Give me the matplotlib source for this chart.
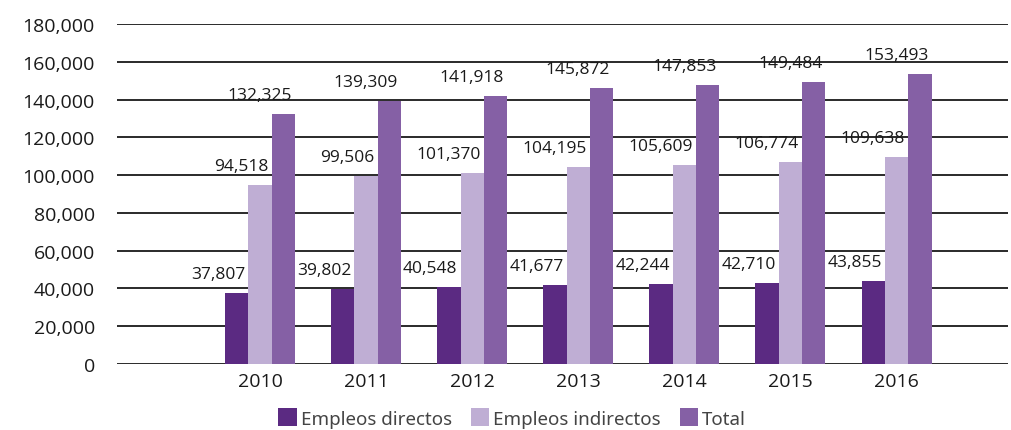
import matplotlib
matplotlib.use("Agg")
import matplotlib.pyplot as plt
import numpy as np
from matplotlib.patches import Patch

years = ["2010", "2011", "2012", "2013", "2014", "2015", "2016"]
directos = [37807, 39802, 40548, 41677, 42244, 42710, 43855]
indirectos = [94518, 99506, 101370, 104195, 105609, 106774, 109638]
total = [132325, 139309, 141918, 145872, 147853, 149484, 153493]
series_names = ["Empleos directos", "Empleos indirectos", "Total"]
colors = ["#5B2A82", "#BFAED4", "#8560A5"]
yticks = list(range(0, 180001, 20000))

plt.rcParams['font.family'] = ['Open Sans', 'DejaVu Sans']

fig = plt.figure(figsize=(10.12, 4.31), dpi=100)
ax = fig.add_axes([0.1156, 0.1531, 0.8804, 0.7889])

x = np.arange(len(years))
w = 0.22
dpx = 100 / 72.0
for k, (vals, col) in enumerate(zip([directos, indirectos, total], colors)):
    pos = x + (k - 1) * w
    ax.bar(pos, vals, width=w, color=col, zorder=3, linewidth=0)
    for p, v in zip(pos, vals):
        ax.annotate(f"{v:,}", xy=(p + w / 2, v), xytext=(-3 / dpx, 11 / dpx),
                    textcoords="offset points", ha="right", va="bottom",
                    fontsize=12.5, color="#1a1a1a", zorder=4)

ax.set_xlim(-1.348, 7.05)
ax.set_ylim(0, 180000)
ax.set_yticks(yticks)
ax.set_yticklabels([f"{t:,}" for t in yticks], fontsize=14, color="#1a1a1a")
ax.set_xticks(x)
ax.set_xticklabels(years, fontsize=14, color="#1a1a1a")
ax.tick_params(axis="both", length=0)
ax.tick_params(axis="y", pad=16)
ax.tick_params(axis="x", pad=6)
ax.grid(axis="y", color="#2a2a2a", linewidth=1.4, zorder=0)
for s in ax.spines.values():
    s.set_visible(False)

handles = [Patch(facecolor=c, edgecolor="none") for c in colors]
leg = fig.legend(handles, series_names, loc="center", bbox_to_anchor=(0.506, 0.028),
                 ncol=3, frameon=False, handlelength=1.0, handleheight=1.1,
                 handletextpad=0.2, columnspacing=1.0,
                 prop={"family": ["Noto Sans", "DejaVu Sans"], "size": 13.5})
for t in leg.get_texts():
    t.set_color("#444444")

fig.savefig("out.png", dpi=100)
